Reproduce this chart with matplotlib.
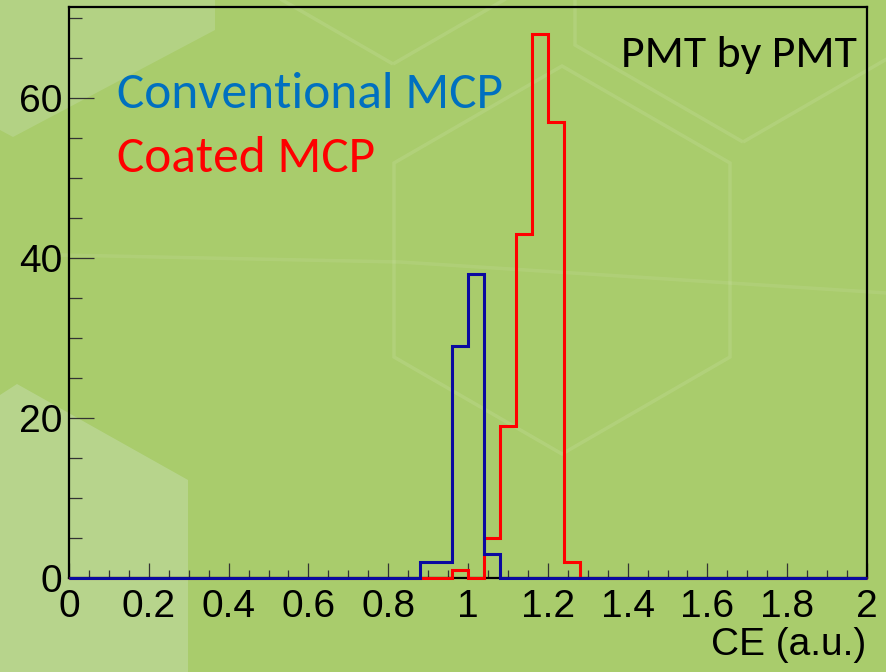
import numpy as np
import matplotlib.pyplot as plt
from matplotlib.patches import Polygon, RegularPolygon
from matplotlib.ticker import MultipleLocator

# histogram binning: 50 bins over CE in [0, 2]
bin_edges = np.linspace(0.0, 2.0, 51)

# conventional MCP counts per bin (lower bin edge -> entries)
conv_low = [0.88, 0.92, 0.96, 1.00, 1.04]
conv_counts = [2, 2, 29, 38, 3]

# coated MCP counts per bin
coat_low = [0.96, 1.00, 1.04, 1.08, 1.12, 1.16, 1.20, 1.24]
coat_counts = [1, 0, 5, 19, 43, 68, 57, 2]

y_ticks = [0, 20, 40, 60]
x_ticks = [0, 0.2, 0.4, 0.6, 0.8, 1, 1.2, 1.4, 1.6, 1.8, 2]
x_ticklabels = ["0", "0.2", "0.4", "0.6", "0.8", "1", "1.2", "1.4", "1.6", "1.8", "2"]

NUM_FONT = ["Liberation Sans Narrow", "Liberation Sans"]
TXT_FONT = ["Carlito", "Lato"]

BG = "#a9cc6c"
LIGHT = "#bcd898"


def histo(lows, counts):
    centres = np.asarray(lows) + 0.02
    h, _ = np.histogram(centres, bins=bin_edges, weights=counts)
    return h


def main():
    fig = plt.figure(figsize=(8.87, 6.72), dpi=100)
    fig.patch.set_facecolor(BG)

    # slide background: lighter panels and faint hexagon outlines (pixel coords)
    bg = fig.add_axes([0, 0, 1, 1], zorder=-1)
    bg.set_xlim(0, 887)
    bg.set_ylim(672, 0)
    bg.axis("off")
    bg.add_patch(Polygon([(0, 0), (215, 0), (215, 30), (13, 137), (0, 130)],
                         closed=True, fc=LIGHT, ec="none", alpha=0.55))
    bg.add_patch(Polygon([(0, 395), (17, 384), (188, 480), (188, 672), (0, 672)],
                         closed=True, fc=LIGHT, ec="none", alpha=0.75))
    for cx, cy in [(562, 260), (743, -52), (393, -130)]:
        bg.add_patch(RegularPolygon((cx, cy), numVertices=6, radius=194,
                                    orientation=0, fill=False,
                                    ec="white", lw=2.5, alpha=0.1))
    bg.plot([60, 400, 887], [255, 262, 293], color="white", lw=2.5, alpha=0.08)

    ax = fig.add_axes([0.0778, 0.1399, 0.8997, 0.8497])
    ax.set_facecolor("none")

    conv = histo(conv_low, conv_counts)
    coat = histo(coat_low, coat_counts)
    ax.stairs(coat, bin_edges, color="#ff0000", lw=2.2, zorder=3, clip_on=False)
    ax.stairs(conv, bin_edges, color="#0a0aa0", lw=2.2, zorder=4, clip_on=False)

    ax.set_xlim(0, 2)
    ax.set_ylim(0, 1.05 * max(coat.max(), conv.max()))

    for side in ["top", "bottom", "left", "right"]:
        ax.spines[side].set_linewidth(1.6)
        ax.spines[side].set_color("black")
        ax.spines[side].set_zorder(2)

    ax.set_yticks(y_ticks)
    ax.yaxis.set_minor_locator(MultipleLocator(5))
    ax.set_xticks(x_ticks)
    ax.set_xticklabels(x_ticklabels)
    ax.xaxis.set_minor_locator(MultipleLocator(0.05))

    ax.tick_params(axis="y", which="major", direction="in", length=18, width=0.9,
                   color="#333333", pad=5, labelsize=28)
    ax.tick_params(axis="y", which="minor", direction="in", length=9, width=0.9,
                   color="#333333")
    ax.tick_params(axis="x", which="major", direction="in", length=11, width=0.9,
                   color="#333333", pad=8, labelsize=28)
    ax.tick_params(axis="x", which="minor", direction="in", length=5.5, width=0.9,
                   color="#333333")
    for lab in ax.get_xticklabels() + ax.get_yticklabels():
        lab.set_family(NUM_FONT)

    fig.text(0.977, 0.025, "CE (a.u.)", ha="right", va="baseline",
             fontsize=28, family=NUM_FONT)

    fig.text(0.132, 0.840, "Conventional MCP", color="#0070c0", ha="left",
             va="baseline", fontsize=37, family=TXT_FONT)
    fig.text(0.132, 0.744, "Coated MCP", color="#ff0000", ha="left",
             va="baseline", fontsize=37, family=TXT_FONT)
    fig.text(0.966, 0.900, "PMT by PMT", color="black", ha="right",
             va="baseline", fontsize=33, family=TXT_FONT)

    fig.savefig("out.png", dpi=100, facecolor=fig.get_facecolor())
    plt.close(fig)


if __name__ == "__main__":
    main()
